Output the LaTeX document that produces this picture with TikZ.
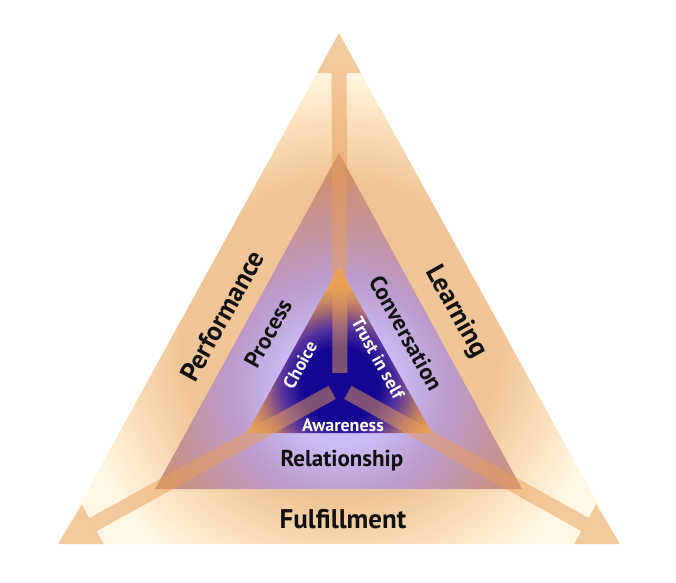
\documentclass[tikz,border=0pt]{standalone}
\usepackage{fontspec}
\setmainfont{PT Sans}
\usepackage{xcolor}
\usetikzlibrary{arrows.meta}
\definecolor{outerpeach}{RGB}{240,196,150}
\definecolor{outerlight}{RGB}{251,224,188}
\definecolor{outercream}{RGB}{255,247,228}
\definecolor{midlilac}{RGB}{202,188,244}
\definecolor{midmauve}{RGB}{188,154,204}
\definecolor{midrose}{RGB}{196,148,156}
\definecolor{midtan}{RGB}{206,144,112}
\definecolor{innerblue}{RGB}{20,6,146}
\definecolor{innerviolet}{RGB}{84,50,158}
\definecolor{innerbrown}{RGB}{186,120,104}
\definecolor{innerorange}{RGB}{240,168,80}
\definecolor{arrowcolor}{RGB}{232,158,88}
\definecolor{labelcolor}{RGB}{17,17,17}

% radial glows: 25bp = radius of the shaded circle
\pgfdeclareradialshading{outerglow}{\pgfpoint{0bp}{0bp}}{color(0bp)=(outerpeach); color(10.5bp)=(outerpeach); color(14.5bp)=(outerlight); color(18bp)=(outercream); color(50bp)=(outercream)}
\pgfdeclareradialshading{midglow}{\pgfpoint{0bp}{0bp}}{color(0bp)=(midlilac); color(6bp)=(midlilac); color(11.5bp)=(midmauve); color(16.5bp)=(midrose); color(22bp)=(midtan); color(50bp)=(midtan)}
\pgfdeclareradialshading{innerglow}{\pgfpoint{0bp}{0bp}}{color(0bp)=(innerblue); color(8bp)=(innerblue); color(12bp)=(innerviolet); color(16.5bp)=(innerbrown); color(21bp)=(innerorange); color(50bp)=(innerorange)}

\begin{document}
\begin{tikzpicture}[
    x=1pt, y=-1pt,
    outerlabel/.style={text=labelcolor, font=\fontsize{27}{30}\selectfont\bfseries},
    midlabel/.style={text=labelcolor, font=\fontsize{23}{26}\selectfont\bfseries},
    innerlabel/.style={text=white, font=\fontsize{18}{21}\selectfont\bfseries},
    arrow/.style={line width=15pt, draw=arrowcolor, opacity=0.5,
        -{Triangle[length=40pt, width=46pt, line width=0pt]}}
]
    \useasboundingbox (0,0) rectangle (676,582);

    % Corners and centre
    \coordinate (ctr) at (340,388);
    \coordinate (otop) at (339,33);
    \coordinate (oleft) at (58,544);
    \coordinate (oright) at (620,544);
    \coordinate (mtop) at (339,153);
    \coordinate (mleft) at (155,489);
    \coordinate (mright) at (522,489);
    \coordinate (itop) at (339,267);
    \coordinate (ileft) at (247,433);
    \coordinate (iright) at (432,433);

    % Triangles
    \begin{scope}
        \clip (otop) -- (oleft) -- (oright) -- cycle;
        \shade[shading=outerglow] (340,340) circle[radius=380pt];
    \end{scope}
    \begin{scope}
        \clip (mtop) -- (mleft) -- (mright) -- cycle;
        \shade[shading=midglow] (ctr) circle[radius=240pt];
    \end{scope}
    \begin{scope}
        \clip (itop) -- (ileft) -- (iright) -- cycle;
        \shade[shading=innerglow] (340,385) circle[radius=120pt];
    \end{scope}

    % Arrows
    \begin{scope}
        \clip (otop) -- (oleft) -- (oright) -- cycle;
        \draw[arrow, shorten <=15pt] (ctr) -- (otop);
        \draw[arrow, shorten <=9pt] (ctr) -- (oleft);
        \draw[arrow, shorten <=9pt] (ctr) -- (oright);
    \end{scope}

    % Labels
    \node[outerlabel, rotate=61] (perf) at (222,316) {Performance};
    \node[outerlabel, rotate=-61] (learn) at (456,312) {Learning};
    \node[outerlabel] (fulfil) at (343,519) {Fulfillment};
    \node[midlabel, rotate=61] (proc) at (268,333) {Process};
    \node[midlabel, rotate=-61] (conv) at (406,333) {Conversation};
    \node[midlabel] (rel) at (342,461) {Relationship};
    \node[innerlabel, rotate=61] (choice) at (300,365) {Choice};
    \node[innerlabel, rotate=-61] (trust) at (378,358) {Trust in self};
    \node[innerlabel] (aware) at (343,425) {Awareness};
\end{tikzpicture}
\end{document}
